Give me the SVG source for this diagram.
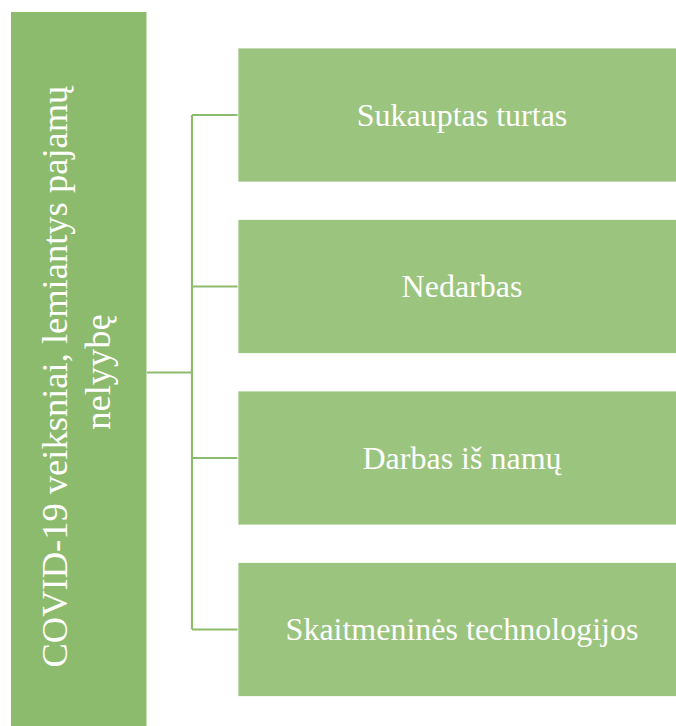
<svg xmlns="http://www.w3.org/2000/svg" width="676" height="726" viewBox="0 0 676 726">
  <style>
    .root { fill: #8dbb6d; }
    .item { fill: #9bc47e; stroke: #ffffff; stroke-width: 0.8; }
    .label { fill: #ffffff; text-anchor: middle; }
    .item-label { font-size: 32px; }
    .root-label { font-size: 36.5px; }
    .link { stroke: #8dbb6d; stroke-width: 2.2; fill: none; }
  </style>

  <!-- connectors: trunk from the root box, vertical spine, one branch per item -->
  <g id="connectors">
    <path class="link" d="M147 372.5 H192"/>
    <path class="link" d="M192 115 V629.5"/>
    <path class="link" d="M192 115 H238"/>
    <path class="link" d="M192 286.5 H238"/>
    <path class="link" d="M192 458 H238"/>
    <path class="link" d="M192 629.5 H238"/>
  </g>

  <g font-family="'Liberation Serif', 'Times New Roman', 'DejaVu Serif', serif">
    <!-- root box with vertical two-line title -->
    <g id="root">
      <rect class="root" x="11" y="12" width="135.5" height="714"/>
      <text class="label root-label" transform="translate(0 372) rotate(-90)">
        <tspan x="0" y="67">COVID-19 veiksniai, lemiantys pajamų</tspan>
        <tspan x="0" y="110">nelyybę</tspan>
      </text>
    </g>

    <g id="item-1">
      <rect class="item" x="238" y="48" width="440" height="134"/>
      <text class="label item-label" x="462" y="125.5">Sukauptas turtas</text>
    </g>

    <g id="item-2">
      <rect class="item" x="238" y="219.5" width="440" height="134"/>
      <text class="label item-label" x="462" y="297">Nedarbas</text>
    </g>

    <g id="item-3">
      <rect class="item" x="238" y="391" width="440" height="134"/>
      <text class="label item-label" x="462" y="468.5">Darbas iš namų</text>
    </g>

    <g id="item-4">
      <rect class="item" x="238" y="562.5" width="440" height="134"/>
      <text class="label item-label" x="462" y="640">Skaitmeninės technologijos</text>
    </g>
  </g>
</svg>
